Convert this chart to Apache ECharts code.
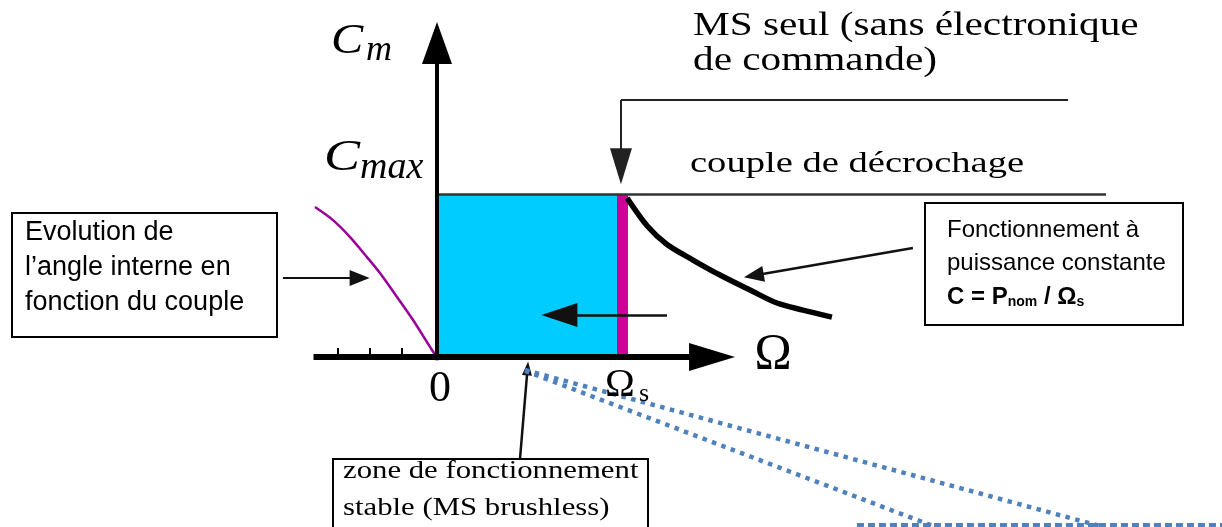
<!DOCTYPE html>
<html><head><meta charset="utf-8">
<script src="https://cdn.jsdelivr.net/npm/echarts@6/dist/echarts.min.js"></script>
<style>html,body{margin:0;padding:0;background:#fff}#c{width:1222px;height:527px}</style>
</head><body><div id="c"></div>
<script>
// ---- data (Ω in units of Ωs, C in units of Cmax) ----
const stableZone = [[0, 1], [1, 1]];
const pullOutStrip = [[1, 1], [1.061, 1]];
const constantPowerCurve = [[1.056,0.975],[1.167,0.805],[1.278,0.690],[1.422,0.595],[1.572,0.503],[1.739,0.411],[1.889,0.331],[2.033,0.288],[2.194,0.245]];
const loadAngleCurve = [[-0.678,0.920],[-0.578,0.840],[-0.483,0.736],[-0.389,0.613],[-0.317,0.515],[-0.222,0.368],[-0.133,0.227],[-0.028,0.043],[0,0]];
const negTicks = [-0.553, -0.372, -0.194];
const xAxisEnds = [[-0.686, 0], [1.528, 0]];
const yAxisEnds = [[0, -0.02], [0, 1.926]];
const cmaxLine = [[0.01, 1.0], [3.717, 1.0]];
const bracketTop = [[3.506, 1.577], [1.022, 1.577]];
const bracketDown = [[1.022, 1.577], [1.022, 1.17]];
const innerArrow = [[1.278, 0.258], [0.68, 0.258]];
const leftCallout = [[-0.856, 0.485], [-0.43, 0.485]];
const rightCallout = [[2.644, 0.669], [1.76, 0.50]];
const bottomCallout = [[0.461, -0.626], [0.503, -0.07]];
const dottedA = [[0.489, -0.080], [3.683, -1.037]];
const dottedB = [[0.489, -0.085], [2.756, -1.037]];
const dashedH = [[2.333, -1.031], [4.361, -1.031]];

const serif = 'Liberation Serif', sans = 'Liberation Sans';

function seg(pts, color, width, endSym, endSize, type) {
  return [{coord: pts[0], symbol: 'none', lineStyle: {color: color, width: width, type: type || 'solid', cap: 'butt'}},
          {coord: pts[1], symbol: endSym || 'none', symbolSize: endSize || 0}];
}
const lines = [
  seg(xAxisEnds, '#000', 6, 'triangle', [28, 46]),
  seg(yAxisEnds, '#000', 4, 'triangle', [30, 42]),
  seg(cmaxLine, '#333', 2.5),
  seg(bracketTop, '#222', 2),
  seg(bracketDown, '#222', 2, 'triangle', [22, 36]),
  seg(innerArrow, '#111', 2.5, 'triangle', [24, 36]),
  seg(leftCallout, '#111', 2, 'triangle', [16, 20]),
  seg(rightCallout, '#111', 2.5, 'triangle', [16, 20]),
  seg(bottomCallout, '#111', 2.5, 'triangle', [10, 14]),
  seg(dottedA, '#4F81BD', 4.5, 'none', 0, [4.5, 5.5]),
  seg(dottedB, '#4F81BD', 4.5, 'none', 0, [4.5, 5.5]),
  seg(dashedH, '#4F81BD', 4, 'none', 0, [7, 4])
].concat(negTicks.map(t => seg([[t, 0], [t, 0.055]], '#000', 2)));

function txt(x, y, text, font, sx, align) {
  return {type: 'text', x: x, y: y, scaleX: sx || 1, z: 100,
    style: {x: 0, y: 0, text: text, font: font, fill: '#000', align: align || 'left', verticalAlign: 'middle'}};
}
function box(x, y, w, h) {
  return {type: 'rect', z: 50, shape: {x: x, y: y, width: w, height: h},
    style: {fill: '#fff', stroke: '#000', lineWidth: 2}};
}

const chart = echarts.init(document.getElementById('c'), null, {renderer: 'canvas'});
chart.setOption({
  animation: false,
  backgroundColor: '#fff',
  grid: {left: 0, right: 0, top: 0, bottom: 0},
  xAxis: {type: 'value', min: -437 / 180, max: 785 / 180, show: false},
  yAxis: {type: 'value', min: -170 / 163, max: 357 / 163, show: false},
  series: [
    {type: 'line', data: stableZone, symbol: 'none', lineStyle: {width: 0}, areaStyle: {color: '#00CCFF', opacity: 1}, z: 1},
    {type: 'line', data: pullOutStrip, symbol: 'none', lineStyle: {width: 0}, areaStyle: {color: '#CC0099', opacity: 1}, z: 1},
    {type: 'line', data: loadAngleCurve, symbol: 'none', smooth: 0.3, lineStyle: {color: '#990099', width: 2.5}, z: 3},
    {type: 'line', data: constantPowerCurve, symbol: 'none', smooth: 0.3, lineStyle: {color: '#000', width: 5.5, cap: 'butt'}, z: 3},
    {type: 'line', data: [], z: 4, markLine: {silent: true, animation: false, label: {show: false}, data: lines}}
  ],
  graphic: [
    // axis labels
    txt(331, 42, 'C', 'italic 42px ' + serif, 1.15),
    txt(366, 51, 'm', 'italic 36px ' + serif, 1.0),
    txt(324, 158, 'C', 'italic 45px ' + serif, 1.2),
    txt(360, 168, 'max', 'italic 38px ' + serif, 1.0),
    txt(773, 355, 'Ω', '50px ' + serif, 1.0, 'center'),
    txt(440, 389, '0', '44px ' + serif, 1.0, 'center'),
    txt(605, 385, 'Ω', '40px ' + serif, 1.0),
    txt(639, 394, 's', '26px ' + serif, 1.0),
    // top annotations
    txt(693, 26.5, 'MS seul (sans électronique', '33px ' + serif, 1.25),
    txt(693, 61.5, 'de commande)', '33px ' + serif, 1.25),
    txt(690, 164, 'couple de décrochage', '29px ' + serif, 1.33),
    // left box
    box(12, 213, 265, 124),
    txt(25, 232.5, 'Evolution de', '27px ' + sans),
    txt(25, 267.5, 'l\u2019angle interne en', '27px ' + sans),
    txt(25, 302.5, 'fonction du couple', '27px ' + sans),
    // right box
    box(925, 203, 258, 122),
    txt(947, 230.5, 'Fonctionnement à', '24px ' + sans),
    txt(947, 263.5, 'puissance constante', '24px ' + sans),
    {type: 'text', x: 947, y: 296.5, z: 100, style: {x: 0, y: 0, text: '{b|C = P}{s|nom}{b| / Ω}{s|s}', verticalAlign: 'middle', align: 'left',
      rich: {b: {font: 'bold 24px ' + sans, fill: '#000', lineHeight: 26, verticalAlign: 'bottom'},
             s: {font: 'bold 14px ' + sans, fill: '#000', lineHeight: 26, verticalAlign: 'bottom'}}}},
    // bottom box
    box(333, 459, 315, 90),
    txt(343, 471, 'zone de fonctionnement', '25px ' + serif, 1.23),
    txt(343, 508, 'stable (MS brushless)', '25px ' + serif, 1.23)
  ]
});
</script></body></html>
